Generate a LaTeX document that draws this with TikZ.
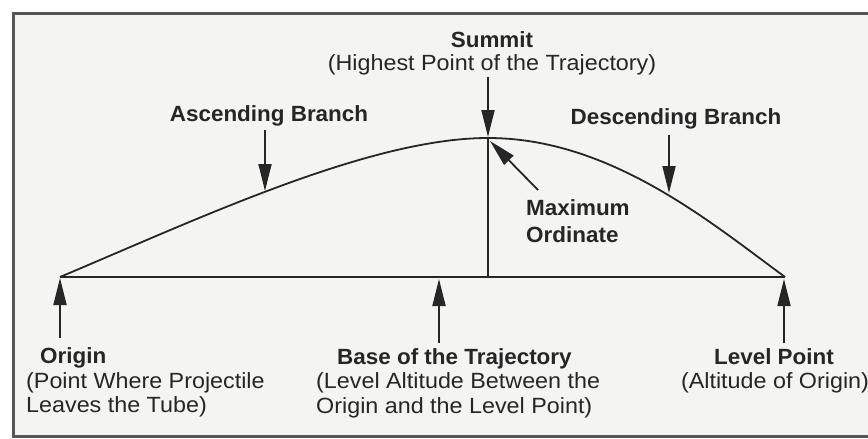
\documentclass[tikz,border=0pt]{standalone}
\usepackage{fontspec}
\setmainfont[FakeStretch=1.06,BoldFeatures={FakeStretch=1.02}]{Liberation Sans}
\usetikzlibrary{arrows.meta}
\definecolor{ink}{HTML}{262626}
\definecolor{paper}{HTML}{F4F4F3}
\definecolor{framec}{HTML}{555555}
\tikzset{
  lbl/.style={text=ink, inner sep=0pt, font=\fontsize{22}{24.5}\selectfont},
  blbl/.style={lbl, font=\fontsize{22}{24.5}\selectfont\bfseries},
  arr/.style={draw=ink, line width=1.8pt, -{Triangle[length=27pt,width=13pt]}},
  trajline/.style={draw=ink, line width=1.8pt},
}
\begin{document}
\begin{tikzpicture}[x=1pt,y=-1pt]
\useasboundingbox (0,0) rectangle (868,439);
\fill[white] (0,0) rectangle (868,439);
\draw[framec, line width=3pt, fill=paper] (13.5,13.5) rectangle (880,436);

% key points
\coordinate (O) at (60,277);
\coordinate (S) at (488,138);
\coordinate (L) at (785,277);
\coordinate (F) at (488,277);

% trajectory
\draw[trajline] (O) .. controls (200,218) and (370,138) .. (S)
                    .. controls (610,138) and (710,222) .. (L);
\draw[trajline] (O) -- (L);
\draw[trajline] (S) -- (F);

% labels
\node[blbl, anchor=base] (summit) at (492,47) {Summit};
\node[lbl, anchor=base] (summit2) at (492,70) {(Highest Point of the Trajectory)};
\node[blbl, anchor=base] (asc) at (269,121) {Ascending Branch};
\node[blbl, anchor=base] (desc) at (676,124) {Descending Branch};
\node[blbl, anchor=base west] (maxo1) at (526,215) {Maximum};
\node[blbl, anchor=base west] (maxo2) at (526,242) {Ordinate};
\node[blbl, anchor=base west] (orig1) at (40,363.5) {Origin};
\node[lbl, anchor=base west] (orig2) at (26,388) {(Point Where Projectile};
\node[lbl, anchor=base west] (orig3) at (26,412.5) {Leaves the Tube)};
\node[blbl, anchor=base west] (base1) at (337,364) {Base of the Trajectory};
\node[lbl, anchor=base west] (base2) at (316,388.5) {(Level Altitude Between the};
\node[lbl, anchor=base west] (base3) at (316,413) {Origin and the Level Point)};
\node[blbl, anchor=base] (lev1) at (774,364) {Level Point};
\node[lbl, anchor=base] (lev2) at (775,388.5) {(Altitude of Origin)};

% arrow ends
\coordinate (ascA) at (265,130);  \coordinate (ascB) at (265,191);
\coordinate (sumA) at (488,77);   \coordinate (sumB) at (488,137);
\coordinate (desA) at (669,135);  \coordinate (desB) at (669,193);
\coordinate (maxA) at (538,190);  \coordinate (maxB) at (490,141);
\coordinate (oriA) at (60,338);   \coordinate (oriB) at (60,278);
\coordinate (basA) at (439,343);  \coordinate (basB) at (439,279);
\coordinate (levA) at (784,343);  \coordinate (levB) at (784,279);

\draw[arr] (ascA) -- (ascB);
\draw[arr] (sumA) -- (sumB);
\draw[arr] (desA) -- (desB);
\draw[arr] (maxA) -- (maxB);
\draw[arr] (oriA) -- (oriB);
\draw[arr] (basA) -- (basB);
\draw[arr] (levA) -- (levB);
\end{tikzpicture}
\end{document}
